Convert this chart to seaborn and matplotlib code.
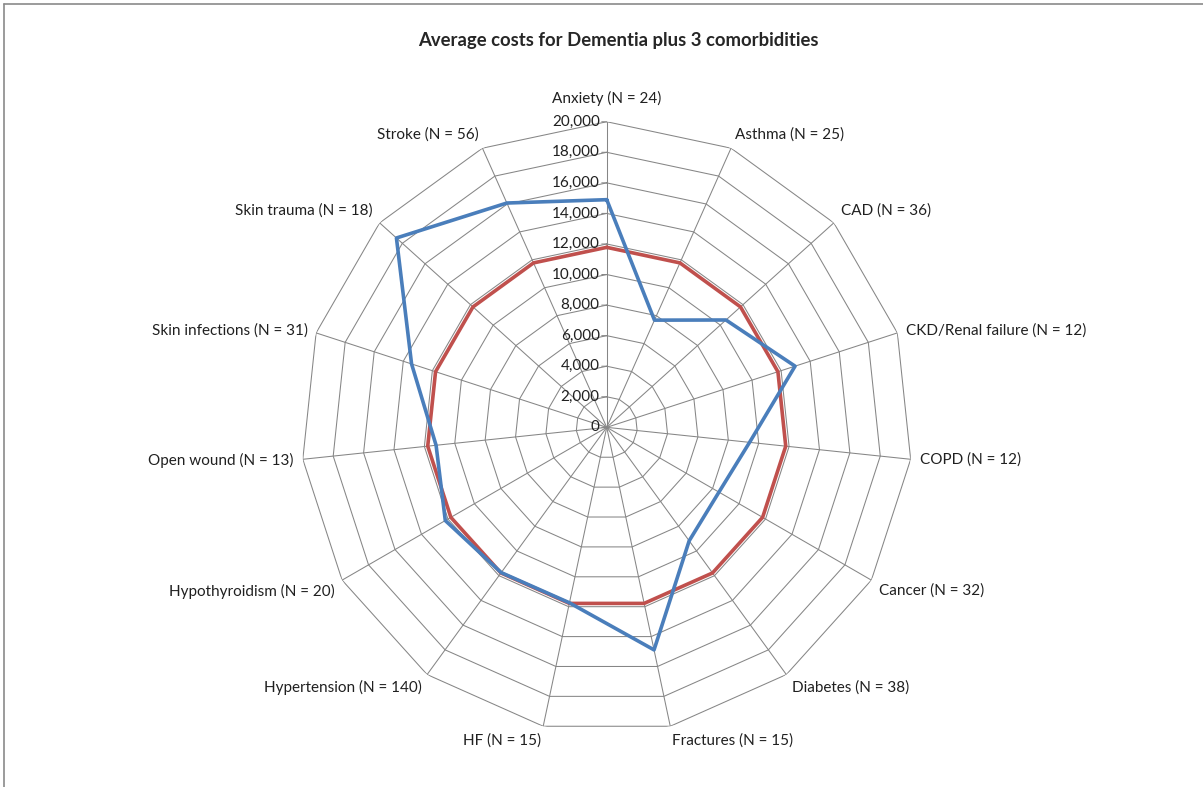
# Radar chart: average costs for dementia plus 3 comorbidities

import numpy as np
import pandas as pd
import seaborn as sns
import matplotlib.pyplot as plt
from matplotlib.lines import Line2D

categories = ['Anxiety (N = 24)', 'Asthma (N = 25)', 'CAD (N = 36)',
              'CKD/Renal failure (N = 12)', 'COPD (N = 12)', 'Cancer (N = 32)',
              'Diabetes (N = 38)', 'Fractures (N = 15)', 'HF (N = 15)',
              'Hypertension (N = 140)', 'Hypothyroidism (N = 20)',
              'Open wound (N = 13)', 'Skin infections (N = 31)',
              'Skin trauma (N = 18)', 'Stroke (N = 56)']
blue_costs = [14900, 7680, 10500, 12960, 9400, 8480, 9180, 14890,
              11740, 11750, 12200, 11230, 13430, 18520, 16070]
red_costs = [11780, 11780, 11780, 11780, 11780, 11780, 11780, 11780,
             11780, 11780, 11780, 11780, 11780, 11780, 11780]
radial_ticks = [0, 2000, 4000, 6000, 8000, 10000, 12000, 14000, 16000, 18000, 20000]

sns.set_style('white')
plt.rcParams['font.family'] = ['Lato', 'DejaVu Sans']

n = len(categories)
theta = np.arange(n) * 2 * np.pi / n
theta_closed = np.append(theta, theta[0])

# long table for seaborn, each series closed back to the first category
df = pd.concat([
    pd.DataFrame({'theta': theta_closed, 'cost': red_costs + red_costs[:1],
                  'series': 'red'}),
    pd.DataFrame({'theta': theta_closed, 'cost': blue_costs + blue_costs[:1],
                  'series': 'blue'}),
])

fig = plt.figure(figsize=(12.03, 7.87), dpi=100)
ax = fig.add_axes([0.2503, 0.0687, 0.5081, 0.7766], projection='polar')
ax.set_theta_zero_location('N')
ax.set_theta_direction(-1)
ax.set_ylim(0, 20000)
ax.grid(False)
ax.spines['polar'].set_visible(False)
ax.set_xticks([])
ax.set_yticks([])

grid_color = '#868686'
# polygon grid
for v in radial_ticks[1:]:
    ax.plot(theta_closed, [v] * (n + 1), color=grid_color, lw=0.75, zorder=1)
# spokes
for t in theta:
    ax.plot([t, t], [0, 20000], color=grid_color, lw=0.75, zorder=1)

palette = {'red': '#C0504D', 'blue': '#4A7EBB'}
sns.lineplot(data=df, x='theta', y='cost', hue='series', units='series',
             estimator=None, sort=False, palette=palette, linewidth=2.6,
             legend=False, ax=ax, zorder=3)
ax.set_xlabel('')
ax.set_ylabel('')

# radial value labels with small ticks
for v in radial_ticks:
    ax.annotate(f'{v:,}', xy=(0, v), xytext=(-7, 0), textcoords='offset pixels',
                ha='right', va='center', fontsize=11, color='#202020')
    ax.annotate('', xy=(0, v), xytext=(-5, 0), textcoords='offset pixels',
                arrowprops=dict(arrowstyle='-', color=grid_color, lw=0.75,
                                shrinkA=0, shrinkB=0))

# category labels
for t, lab in zip(theta, categories):
    s, c = np.sin(t), np.cos(t)
    if abs(s) < 0.1:
        ha = 'center'
    elif s > 0:
        ha = 'left'
    else:
        ha = 'right'
    if c > 0.5:
        va = 'bottom'
    elif c < -0.45:
        va = 'top'
    else:
        va = 'center'
    dx, dy = 9 * s, 7 * c
    if abs(s) < 0.1:
        dy = 16
    ax.annotate(lab, xy=(t, 20000), xytext=(dx, dy), textcoords='offset pixels',
                ha=ha, va=va, fontsize=11, color='#202020')

fig.text(0.514, 0.948, 'Average costs for Dementia plus 3 comorbidities',
         ha='center', va='center', fontsize=13.3, fontweight='bold')

# chart area border (top and left visible)
fig.add_artist(Line2D([0.0033, 1.0], [0.995, 0.995], color='#8a8a8a', lw=1.2))
fig.add_artist(Line2D([0.0033, 0.0033], [0.0, 0.995], color='#8a8a8a', lw=1.2))

fig.savefig('out.png', dpi=100)
